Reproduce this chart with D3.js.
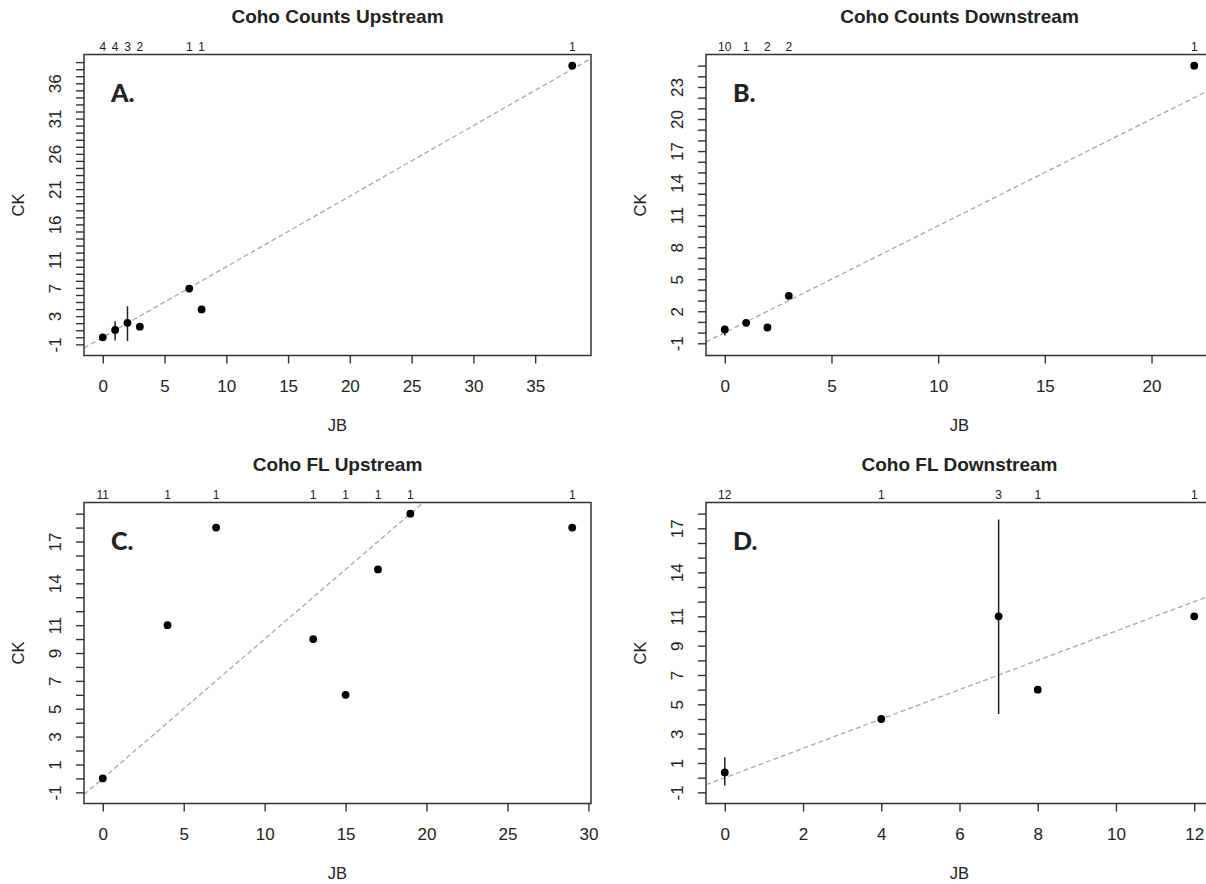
<!DOCTYPE html>
<html>
<head>
<meta charset="utf-8">
<script src="https://cdn.jsdelivr.net/npm/d3@7"></script>
<style>
  body { margin: 0; background: #fff; }
  svg { display: block; }
  text { font-family: "Liberation Sans", Arial, sans-serif; fill: #222; }
</style>
</head>
<body>
<div class="container"></div>
<script>
// ---- data ----
var titles = ["Coho Counts Upstream", "Coho Counts Downstream", "Coho FL Upstream", "Coho FL Downstream"];
var letters = ["A.", "B.", "C.", "D."];

// A: counts upstream
var aJB = [0, 1, 2, 3, 7, 8, 38];
var aCK = [0, 1.05, 2.05, 1.5, 6.9, 3.95, 38.5];
var aLo = [null, -0.46, -0.55, null, null, null, null];
var aHi = [null, 2.27, 4.4, null, null, null, null];
var aN  = [4, 4, 3, 2, 1, 1, 1];

// B: counts downstream
var bJB = [0, 1, 2, 3, 22];
var bCK = [0.3, 0.92, 0.48, 3.44, 25];
var bLo = [-0.27, null, null, null, null];
var bHi = [0.67, null, null, null, null];
var bN  = [10, 1, 2, 2, 1];

// C: FL upstream
var cJB = [0, 4, 7, 13, 15, 17, 19, 29];
var cCK = [0, 11, 18, 10, 6, 15, 19, 18];
var cLo = [null, null, null, null, null, null, null, null];
var cHi = [null, null, null, null, null, null, null, null];
var cN  = [11, 1, 1, 1, 1, 1, 1, 1];

// D: FL downstream
var dJB = [0, 4, 7, 8, 12];
var dCK = [0.36, 4, 11, 6, 11];
var dLo = [-0.55, null, 4.34, null, null];
var dHi = [1.39, null, 17.6, null, null];
var dN  = [12, 1, 3, 1, 1];

// axis ranges (before R's 4% expansion) and ticks
var xRanges = [[0, 38], [0, 22], [0, 29], [0, 12]];
var yRanges = [[-1, 38.5], [-1.1, 25], [-1, 19], [-1, 18]];
var xTicks = [[0, 5, 10, 15, 20, 25, 30, 35], [0, 5, 10, 15, 20], [0, 5, 10, 15, 20, 25, 30], [0, 2, 4, 6, 8, 10, 12]];
var yTickEnds = [[-1, 39], [-1, 25], [-1, 19], [-1, 18]];
var yLabels = [[-1, 3, 7, 11, 16, 21, 26, 31, 36], [-1, 2, 5, 8, 11, 14, 17, 20, 23],
               [-1, 1, 3, 5, 7, 9, 11, 14, 17], [-1, 1, 3, 5, 7, 9, 11, 14, 17]];

var panels = [
  {jb: aJB, ck: aCK, lo: aLo, hi: aHi, n: aN},
  {jb: bJB, ck: bCK, lo: bLo, hi: bHi, n: bN},
  {jb: cJB, ck: cCK, lo: cLo, hi: cHi, n: cN},
  {jb: dJB, ck: dCK, lo: dLo, hi: dHi, n: dN}
];

// ---- layout ----
var W = 1206, H = 884;
var pw = 507, ph = 301;
var origins = [[84, 54.5], [706, 54.5], [84, 502.5], [706, 502.5]];

var svg = d3.select(".container").append("svg").attr("width", W).attr("height", H);

function expand(r) {
  var d = (r[1] - r[0]) * 0.04;
  return [r[0] - d, r[1] + d];
}

panels.forEach(function(p, k) {
  var g = svg.append("g").attr("transform", "translate(" + origins[k][0] + "," + origins[k][1] + ")");
  var x = d3.scaleLinear().domain(expand(xRanges[k])).range([0, pw]);
  var y = d3.scaleLinear().domain(expand(yRanges[k])).range([ph, 0]);

  g.append("clipPath").attr("id", "clip" + k)
    .append("rect").attr("width", pw).attr("height", ph);

  // 1:1 reference line
  var xd = x.domain();
  g.append("line")
    .attr("clip-path", "url(#clip" + k + ")")
    .attr("x1", x(xd[0])).attr("y1", y(xd[0]))
    .attr("x2", x(xd[1])).attr("y2", y(xd[1]))
    .attr("stroke", "#a8a8a8").attr("stroke-width", 1.3)
    .attr("stroke-dasharray", "5,3");

  // error bars
  p.jb.forEach(function(v, i) {
    if (p.lo[i] == null) return;
    g.append("line")
      .attr("x1", x(v)).attr("x2", x(v))
      .attr("y1", y(p.lo[i])).attr("y2", y(p.hi[i]))
      .attr("stroke", "#222").attr("stroke-width", 1.5);
  });

  // points
  g.selectAll("circle.pt").data(p.jb).enter().append("circle")
    .attr("class", "pt")
    .attr("cx", function(d) { return x(d); })
    .attr("cy", function(d, i) { return y(p.ck[i]); })
    .attr("r", 3.9)
    .attr("fill", "#000");

  // bottom axis
  var xa = g.append("g").attr("transform", "translate(0," + ph + ")")
    .call(d3.axisBottom(x).tickValues(xTicks[k]).tickSize(8).tickSizeOuter(0).tickFormat(d3.format("d")));
  xa.select(".domain").remove();
  xa.selectAll("line").attr("stroke", "#333").attr("stroke-width", 1.4);
  xa.selectAll("text").attr("y", 36).attr("dy", 0)
    .style("font-size", "17px").style("font-family", "Liberation Sans, Arial, sans-serif").attr("fill", "#222");

  // left axis with a tick at every integer
  var yt = d3.range(yTickEnds[k][0], yTickEnds[k][1] + 1);
  var ya = g.append("g")
    .call(d3.axisLeft(y).tickValues(yt).tickSize(8).tickSizeOuter(0)
      .tickFormat(function(d) { return yLabels[k].indexOf(d) >= 0 ? d : ""; }));
  ya.select(".domain").remove();
  ya.selectAll("line").attr("stroke", "#333").attr("stroke-width", 1.4);
  ya.selectAll("text")
    .attr("x", null).attr("dy", null)
    .attr("transform", "translate(-23,0) rotate(-90)")
    .attr("text-anchor", "middle")
    .style("font-size", "17px").style("font-family", "Liberation Sans, Arial, sans-serif").attr("fill", "#222");

  // top counts
  g.selectAll("text.cnt").data(p.jb).enter().append("text")
    .attr("class", "cnt")
    .attr("x", function(d) { return x(d); })
    .attr("y", -4)
    .attr("text-anchor", "middle")
    .style("font-size", "12px")
    .text(function(d, i) { return p.n[i]; });

  // box
  g.append("rect").attr("width", pw).attr("height", ph)
    .attr("fill", "none").attr("stroke", "#333").attr("stroke-width", 1.5);

  // titles and labels
  g.append("text").attr("x", pw / 2).attr("y", -32).attr("text-anchor", "middle")
    .style("font-size", "19px").style("font-weight", "bold").text(titles[k]);
  g.append("text").attr("x", pw / 2).attr("y", ph + 75).attr("text-anchor", "middle")
    .style("font-size", "16.5px").text("JB");
  g.append("text").attr("transform", "translate(-60," + (ph / 2) + ") rotate(-90)")
    .attr("text-anchor", "middle").style("font-size", "16.5px").text("CK");

  g.append("text").attr("x", 27).attr("y", 47)
    .style("font-family", "Lato, 'Open Sans', sans-serif").style("font-weight", "900")
    .style("font-size", "25px").attr("fill", "#000").text(letters[k]);
});
</script>
</body>
</html>
